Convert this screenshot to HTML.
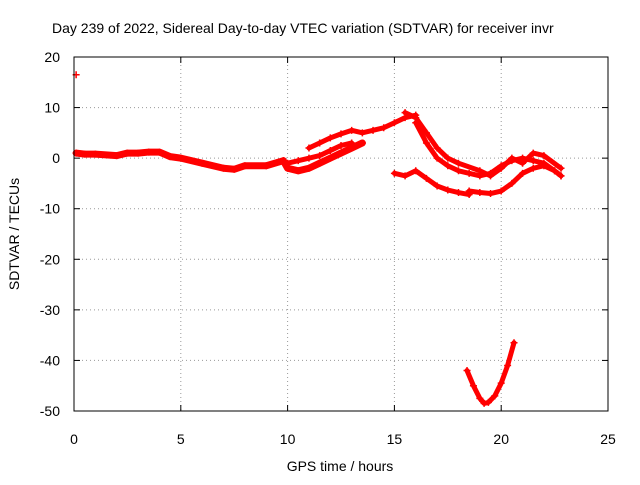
<!DOCTYPE html>
<html><head><meta charset="utf-8"><style>
body{margin:0;background:#fff}
svg text{font-family:"Liberation Sans",sans-serif;font-size:14px;fill:#000}
</style></head><body>
<svg id="chart" width="640" height="480" viewBox="0 0 640 480" xmlns="http://www.w3.org/2000/svg">
<rect width="640" height="480" fill="#fff"/>
<text x="52" y="33">Day 239 of 2022, Sidereal Day-to-day VTEC variation (SDTVAR) for receiver invr</text>
<g id="grid"></g>
<g id="ticks"></g>
<g id="series"></g>
<rect x="74" y="57" width="534" height="354" fill="none" stroke="#000" stroke-width="1"/>
<text x="340" y="471" text-anchor="middle">GPS time / hours</text>
<text transform="translate(19,234) rotate(-90)" text-anchor="middle">SDTVAR / TECUs</text>
</svg>
<script>
const xTicks=[0,5,10,15,20,25];
const yTicks=[20,10,0,-10,-20,-30,-40,-50];
const seriesMainX=[0.1,0.5,1,2,2.5,3,3.5,4,4.5,5,6,7,7.5,8,9,9.8,10,10.5,11,11.5,12,12.5,13,13.5];
const seriesMainY=[1,0.8,0.8,0.5,1,1,1.2,1.2,0.3,0,-1,-2,-2.2,-1.5,-1.5,-0.5,-2,-2.5,-2,-1,0,1,2,3];
const seriesUpperX=[11,11.5,12,12.5,13,13.5,14,14.5,15,15.5,16];
const seriesUpperY=[2,3,4,4.8,5.5,5,5.5,6,7,8,8.5];
const seriesMidX=[10,10.5,11,11.5,12,12.5,13];
const seriesMidY=[-1,-0.5,0,0.5,1.5,2.5,3];
const seriesPeakX=[15.5,16,16.5,17,17.5,18,19,19.5,20,20.5,21,21.5,22,22.8];
const seriesPeakY=[9,8,5,2,0,-1,-2.5,-3.5,-2,0,-1,1,0.5,-2];
const seriesDecX=[16,16.5,17,17.5,18,18.5,19,19.5,20,20.5,21,21.5,22,22.5,22.8];
const seriesDecY=[7,3,0,-1.5,-2.5,-3,-3.5,-3,-1.5,-0.5,0,-0.5,-1,-2.5,-3.5];
const seriesLowX=[15,15.5,16,16.5,17,17.5,18,18.5];
const seriesLowY=[-3,-3.5,-2.5,-4,-5.5,-6.3,-6.8,-7.2];
const seriesLow2X=[18.5,19,19.5,20,20.5,21,21.5,22,22.5,22.8];
const seriesLow2Y=[-6.5,-6.8,-7,-6.5,-5,-3,-2,-1.5,-2.5,-3.5];
const seriesVX=[18.4,18.7,19,19.2,19.4,19.7,20,20.3,20.6];
const seriesVY=[-42,-45,-47.5,-48.5,-48.3,-47,-44.5,-41,-36.5];
const spikeX=[0.1];const spikeY=[16.5];
const NS="http://www.w3.org/2000/svg";
const X=v=>74+v*(534/25);
const Y=v=>57+(20-v)*(354/70);
const grid=document.getElementById('grid'),ticks=document.getElementById('ticks'),ser=document.getElementById('series');
function mk(t,a,p){const e=document.createElementNS(NS,t);for(const k in a)e.setAttribute(k,a[k]);p.appendChild(e);return e;}
xTicks.forEach(v=>{
 if(v>0&&v<25){const g=mk('line',{x1:X(v),x2:X(v),y1:57,y2:411,stroke:'#999','stroke-dasharray':'1,3'},grid);
 
 }
 const t=mk('text',{x:X(v),y:444,'text-anchor':'middle'},ticks);t.textContent=v;
 
 
 mk('line',{x1:X(v),x2:X(v),y1:411,y2:405,stroke:'#000'},ticks);
 mk('line',{x1:X(v),x2:X(v),y1:57,y2:63,stroke:'#000'},ticks);
});
yTicks.forEach(v=>{
 if(v<20&&v>-50){const g=mk('line',{x1:74,x2:608,y1:Y(v),y2:Y(v),stroke:'#999','stroke-dasharray':'1,3'},grid);
 
 }
 const t=mk('text',{x:60,y:Y(v)+5,'text-anchor':'end'},ticks);t.textContent=v;
 
 
 mk('line',{x1:74,x2:80,y1:Y(v),y2:Y(v),stroke:'#000'},ticks);
 mk('line',{x1:608,x2:602,y1:Y(v),y2:Y(v),stroke:'#000'},ticks);
});
const all=[[seriesMainX,seriesMainY],[seriesUpperX,seriesUpperY],[seriesMidX,seriesMidY],[seriesPeakX,seriesPeakY],[seriesDecX,seriesDecY],[seriesLowX,seriesLowY],[seriesLow2X,seriesLow2Y],[seriesVX,seriesVY],[spikeX,spikeY]];
all.forEach(([xs,ys],k)=>{
 if(xs.length>1){const pl=mk('polyline',{points:xs.map((x,i)=>X(x)+','+Y(ys[i])).join(' '),fill:'none',stroke:'#f00','stroke-width':k===0?7:5,'stroke-linejoin':'round','stroke-linecap':'round'},ser);
 
 }
 xs.forEach((x,i)=>{const px=X(x),py=Y(ys[i]);
  const p=mk('path',{d:`M${px-3.5},${py}h7M${px},${py-3.5}v7`,stroke:'#f00','stroke-width':1.5},ser);
  
  });
});
</script>
</body></html>
